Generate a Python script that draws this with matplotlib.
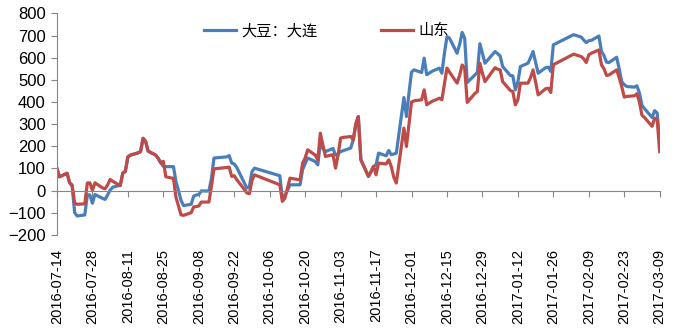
import pandas as pd
import matplotlib
matplotlib.use('Agg')
import matplotlib.pyplot as plt
import matplotlib.dates as mdates

# 交易日（2016-07-14 ~ 2017-03-09）
dates = [
    '2016-07-14', '2016-07-15', '2016-07-18', '2016-07-19', '2016-07-20', '2016-07-21', '2016-07-22',
    '2016-07-25', '2016-07-26', '2016-07-27', '2016-07-28', '2016-07-29', '2016-08-01', '2016-08-02',
    '2016-08-03', '2016-08-04', '2016-08-05', '2016-08-08', '2016-08-09', '2016-08-10', '2016-08-11',
    '2016-08-12', '2016-08-15', '2016-08-16', '2016-08-17', '2016-08-18', '2016-08-19', '2016-08-22',
    '2016-08-23', '2016-08-24', '2016-08-25', '2016-08-26', '2016-08-29', '2016-08-30', '2016-08-31',
    '2016-09-01', '2016-09-02', '2016-09-05', '2016-09-06', '2016-09-07', '2016-09-08', '2016-09-09',
    '2016-09-12', '2016-09-13', '2016-09-14', '2016-09-19', '2016-09-20', '2016-09-21', '2016-09-22',
    '2016-09-23', '2016-09-26', '2016-09-27', '2016-09-28', '2016-09-29', '2016-09-30', '2016-10-10',
    '2016-10-11', '2016-10-12', '2016-10-13', '2016-10-14', '2016-10-17', '2016-10-18', '2016-10-19',
    '2016-10-20', '2016-10-21', '2016-10-24', '2016-10-25', '2016-10-26', '2016-10-27', '2016-10-28',
    '2016-10-31', '2016-11-01', '2016-11-02', '2016-11-03', '2016-11-04', '2016-11-07', '2016-11-08',
    '2016-11-09', '2016-11-10', '2016-11-11', '2016-11-14', '2016-11-15', '2016-11-16', '2016-11-17',
    '2016-11-18', '2016-11-21', '2016-11-22', '2016-11-23', '2016-11-24', '2016-11-25', '2016-11-28',
    '2016-11-29', '2016-11-30', '2016-12-01', '2016-12-02', '2016-12-05', '2016-12-06', '2016-12-07',
    '2016-12-08', '2016-12-09', '2016-12-12', '2016-12-13', '2016-12-14', '2016-12-15', '2016-12-16',
    '2016-12-19', '2016-12-20', '2016-12-21', '2016-12-22', '2016-12-23', '2016-12-26', '2016-12-27',
    '2016-12-28', '2016-12-29', '2016-12-30', '2017-01-03', '2017-01-04', '2017-01-05', '2017-01-06',
    '2017-01-09', '2017-01-10', '2017-01-11', '2017-01-12', '2017-01-13', '2017-01-16', '2017-01-17',
    '2017-01-18', '2017-01-19', '2017-01-20', '2017-01-23', '2017-01-24', '2017-01-25', '2017-01-26',
    '2017-02-03', '2017-02-06', '2017-02-07', '2017-02-08', '2017-02-09', '2017-02-10', '2017-02-13',
    '2017-02-14', '2017-02-15', '2017-02-16', '2017-02-17', '2017-02-20', '2017-02-21', '2017-02-22',
    '2017-02-23', '2017-02-24', '2017-02-27', '2017-02-28', '2017-03-01', '2017-03-02', '2017-03-03',
    '2017-03-06', '2017-03-07', '2017-03-08', '2017-03-09',
]

# 大豆：大连
dalian = [
    100, 62, 78, 35, 20, -100, -115,
    -110, -19, -20, -57, -18, -35, -40,
    -20, 2, 15, 24, 79, 86, 152,
    160, 170, 176, 236, 222, 178, 160,
    145, 125, 110, 108, 108, 40, 0,
    -45, -68, -62, -25, -20, -18, -2,
    -2, 55, 147, 152, 158, 124, 120,
    104, 35, 11, 18, 85, 101, 67,
    -34, -23, 0, 26, 26, 26, 95,
    121, 147, 131, 116, 214, 190, 176,
    190, 160, 165, 176, 180, 192, 229,
    300, 334, 139, 64, 85, 109, 116,
    169, 157, 181, 162, 165, 169, 420,
    334, 440, 535, 545, 533, 598, 523,
    530, 538, 553, 530, 620, 695, 688,
    620, 660, 714, 688, 488, 522, 533,
    663, 620, 575, 628, 618, 608, 560,
    520, 518, 455, 490, 560, 575, 600,
    628, 580, 530, 555, 557, 538, 658,
    704, 693, 680, 668, 677, 678, 698,
    628, 610, 580, 578, 602, 550, 492,
    478, 470, 467, 473, 440, 385, 370,
    330, 361, 350, 222,
]

# 山东
shandong = [
    100, 62, 78, 35, 25, -57, -62,
    -60, 34, 35, 0, 35, 12, 8,
    25, 50, 42, 22, 79, 86, 152,
    160, 170, 176, 236, 222, 178, 160,
    145, 125, 132, 62, 55, -30, -70,
    -110, -112, -100, -74, -72, -70, -52,
    -52, 18, 98, 104, 106, 64, 67,
    49, 5, -11, -14, 45, 71, 26,
    -49, -34, 10, 56, 50, 49, 124,
    147, 184, 160, 139, 259, 207, 154,
    162, 101, 160, 237, 240, 244, 229,
    300, 334, 139, 64, 85, 109, 71,
    124, 120, 139, 109, 60, 34, 282,
    199, 300, 400, 405, 410, 455, 387,
    395, 402, 417, 410, 480, 553, 535,
    485, 520, 567, 553, 398, 438, 447,
    575, 530, 492, 555, 548, 545, 492,
    452, 447, 387, 410, 485, 485, 510,
    545, 490, 432, 460, 462, 443, 568,
    616, 605, 595, 578, 613, 620, 635,
    568, 550, 520, 522, 545, 510, 470,
    422, 425, 428, 437, 400, 340, 330,
    290, 327, 320, 176,
]

series_names = ['大豆：大连', '山东']
y_ticks = [-200, -100, 0, 100, 200, 300, 400, 500, 600, 700, 800]
tick_dates = pd.date_range('2016-07-14', '2017-03-09', freq='14D')

dt = pd.to_datetime(dates)

fig = plt.figure(figsize=(6.78, 3.35), dpi=100)
ax = fig.add_axes([0.084, 0.299, 0.889, 0.661])

ax.plot(dt, dalian, color='#4A7EBB', linewidth=2.3, label=series_names[0], solid_joinstyle='round')
ax.plot(dt, shandong, color='#BE4B48', linewidth=2.3, label=series_names[1], solid_joinstyle='round')

ax.set_xlim(tick_dates[0], tick_dates[-1])
ax.set_ylim(-200, 800)
ax.set_yticks(y_ticks)
ax.set_xticks(tick_dates)

axis_color = '#868686'
for s in ['top', 'right']:
    ax.spines[s].set_visible(False)
ax.spines['bottom'].set_position(('data', 0))
ax.spines['bottom'].set_color(axis_color)
ax.spines['left'].set_color(axis_color)
ax.tick_params(axis='x', labelbottom=False, direction='out', length=4, color=axis_color)
ax.tick_params(axis='y', direction='out', length=4, color=axis_color, pad=4)
for lab in ax.get_yticklabels():
    lab.set_fontfamily('Liberation Sans')
    lab.set_fontsize(12)

# x 轴标签放在图底部
secax = ax.secondary_xaxis('bottom')
secax.set_xticks(tick_dates)
secax.xaxis.set_major_formatter(mdates.DateFormatter('%Y-%m-%d'))
secax.spines['bottom'].set_visible(False)
secax.tick_params(axis='x', length=0, pad=10)
for lab in secax.get_xticklabels():
    lab.set_rotation(90)
    lab.set_fontfamily('Liberation Sans')
    lab.set_fontsize(10.5)

leg = ax.legend(loc='center', bbox_to_anchor=(0.447, 0.921), ncol=2, frameon=False,
                handlelength=2.1, columnspacing=4.2, handletextpad=0.3,
                prop={'family': ['Noto Sans CJK SC', 'DejaVu Sans'], 'size': 11})

fig.savefig('out.png', dpi=100)
